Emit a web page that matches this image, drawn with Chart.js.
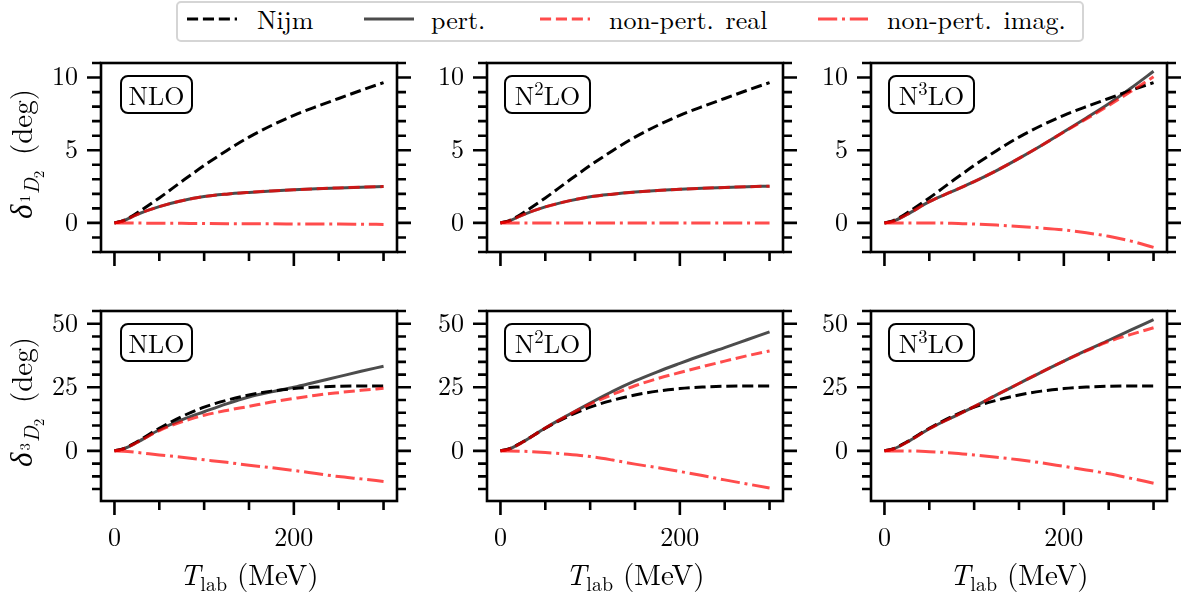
<!DOCTYPE html>
<html>
<head>
<meta charset="utf-8">
<script src="https://cdn.jsdelivr.net/npm/chart.js@4.4.0/dist/chart.umd.min.js"></script>
<style>
  body { margin: 0; background: #fff; }
  #fig { position: relative; width: 1186px; height: 597px; background: #fff; overflow: hidden;
         font-family: "Latin Modern Roman", "Liberation Serif", serif; color: #000; }
  .panel { position: absolute; }
  .tag { position: absolute; box-sizing: border-box; border: 2.5px solid #000; border-radius: 8px;
         font-size: 26px; line-height: 1; display: flex; align-items: center; justify-content: center; }
  .tag sup { font-size: 72%; position: relative; top: -0.42em; vertical-align: baseline; line-height: 0; }
  .ylab { position: absolute; font-size: 29px; line-height: 30px; white-space: nowrap;
          transform: translate(-50%, -50%) rotate(-90deg); }
  .ylab .dl { font-family: "Liberation Serif", serif; font-style: italic; font-size: 31px; }
  .ylab .s1 { font-size: 21px; position: relative; top: 0.35em; margin-left: 2px; margin-right: 6px; }
  .ylab .s1a { font-size: 15px; position: relative; top: -0.6em; margin-right: 1px; }
  .ylab .s1b { font-size: 15px; position: relative; top: 0.3em; }
  .xlab { position: absolute; font-size: 29px; line-height: 29px; white-space: nowrap; transform: translateX(-50%); }
  .xlab .sb { font-size: 20px; position: relative; top: 0.3em; margin-right: 10px; }
  #legend { position: absolute; left: 176px; top: 1px; width: 908px; height: 41px; box-sizing: border-box;
            border: 2px solid #d5d5d5; border-radius: 5px; }
  .lt { position: absolute; top: 6px; font-size: 26px; line-height: 26px; white-space: nowrap; word-spacing: 3px; }
  #lsvg { position: absolute; left: 0; top: 0; }
</style>
</head>
<body>
<div id="fig">
  <svg id="lsvg" width="1186" height="45"></svg>
  <div id="legend"></div>
</div>
<script>
// energies (MeV)
const Tlab = [0, 10, 25, 50, 75, 100, 125, 150, 175, 200, 225, 250, 275, 300];

// 1D2 phase shifts (deg)
const nijm1D2 = [0, 0.16, 0.68, 1.72, 2.85, 3.95, 4.97, 5.9, 6.7, 7.4, 8.0, 8.56, 9.12, 9.65];
const nlo1D2Pert = [0, 0.15, 0.58, 1.12, 1.52, 1.81, 1.98, 2.1, 2.2, 2.28, 2.35, 2.41, 2.46, 2.5];
const nlo1D2Real = [0, 0.15, 0.58, 1.12, 1.52, 1.81, 1.98, 2.1, 2.2, 2.28, 2.35, 2.41, 2.46, 2.5];
const nlo1D2Imag = [0, 0, -0.01, -0.02, -0.03, -0.04, -0.05, -0.06, -0.06, -0.07, -0.08, -0.08, -0.09, -0.1];
const n2lo1D2Pert = [0, 0.14, 0.56, 1.1, 1.5, 1.8, 1.98, 2.12, 2.23, 2.31, 2.38, 2.44, 2.49, 2.53];
const n2lo1D2Real = [0, 0.14, 0.56, 1.1, 1.5, 1.8, 1.98, 2.12, 2.23, 2.31, 2.38, 2.44, 2.49, 2.53];
const n2lo1D2Imag = [0, 0, 0, 0, 0, 0, 0, 0, 0, 0, 0, 0, -0.01, -0.01];
const n3lo1D2Pert = [0, 0.12, 0.58, 1.46, 2.15, 2.84, 3.6, 4.44, 5.33, 6.27, 7.22, 8.2, 9.28, 10.43];
const n3lo1D2Real = [0, 0.12, 0.58, 1.46, 2.15, 2.84, 3.6, 4.44, 5.33, 6.25, 7.15, 8.08, 9.05, 10.05];
const n3lo1D2Imag = [0, 0, 0, 0, -0.02, -0.08, -0.15, -0.25, -0.35, -0.48, -0.68, -0.92, -1.25, -1.68];

// 3D2 phase shifts (deg)
const nijm3D2 = [0, 0.85, 3.6, 8.9, 13.5, 17.2, 19.9, 22.0, 23.5, 24.5, 25.1, 25.4, 25.5, 25.5];
const nlo3D2Pert = [0, 0.8, 3.3, 8.3, 12.2, 15.4, 18.5, 21.2, 23.2, 25.0, 27.1, 29.2, 31.3, 33.3];
const nlo3D2Real = [0, 0.8, 3.3, 8.0, 11.4, 14.0, 15.9, 17.5, 19.2, 20.6, 21.9, 22.9, 23.8, 24.6];
const nlo3D2Imag = [0, -0.1, -0.6, -1.6, -2.5, -3.5, -4.5, -5.6, -6.6, -7.7, -8.9, -10.1, -11.0, -12.0];
const n2lo3D2Pert = [0, 0.8, 3.5, 9.0, 14.0, 18.8, 23.4, 27.5, 31.1, 34.4, 37.6, 40.6, 43.7, 46.8];
const n2lo3D2Real = [0, 0.8, 3.5, 9.0, 13.9, 18.4, 22.2, 25.6, 28.4, 30.8, 33.1, 35.3, 37.4, 39.3];
const n2lo3D2Imag = [0, 0, -0.15, -0.65, -1.3, -2.2, -3.6, -5.2, -6.6, -8.1, -9.7, -11.4, -13.0, -14.6];
const n3lo3D2Pert = [0, 0.8, 3.4, 8.7, 13.1, 17.4, 22.0, 26.5, 31.0, 35.3, 39.5, 43.5, 47.6, 51.6];
const n3lo3D2Real = [0, 0.8, 3.4, 8.7, 13.1, 17.4, 22.0, 26.5, 31.0, 35.3, 39.3, 43.0, 45.8, 48.4];
const n3lo3D2Imag = [0, 0, 0, -0.3, -0.8, -1.6, -2.5, -3.5, -4.7, -6.1, -7.5, -9.0, -10.8, -12.7];

// axes
const xRange = [-15, 315];
const xMajorTicks = [0, 200];
const xMinorTicks = [50, 100, 150, 250, 300];
const yRangeTop = [-2, 11];
const yMajorTop = [0, 5, 10];
const yMinorTop = [-2, -1, 1, 2, 3, 4, 6, 7, 8, 9, 11];
const yRangeBottom = [-19.7, 55];
const yMajorBottom = [0, 25, 50];
const yMinorBottom = [-15, -10, -5, 5, 10, 15, 20, 30, 35, 40, 45, 55];

const seriesNames = ["Nijm", "pert.", "non-pert. real", "non-pert. imag."];
const orderNames = ["NLO", "N<sup>2</sup>LO", "N<sup>3</sup>LO"];

// layout (pixels)
const colLeft = [101, 487, 871];
const rowTop = [63, 311];
const rowHeight = [189, 190];
const plotWidth = 296;
const padLeft = 70, padTop = 8, padRight = 18;
const xAxisHeight = [30, 52];
const majorLen = 14, minorLen = 9;
const font = { family: "'Latin Modern Roman', 'Liberation Serif', serif", size: 26 };

const red = "rgba(255,0,0,0.7)";
const styles = [
  { color: "#000000", dash: [11.1, 4.8], order: 4 },
  { color: "rgba(0,0,0,0.7)", dash: [], order: 3 },
  { color: red, dash: [11.1, 4.8], order: 2 },
  { color: red, dash: [19.2, 4.8, 3, 4.8], order: 1 }
];

const panels = [
  { row: 0, col: 0, series: [nijm1D2, nlo1D2Pert, nlo1D2Real, nlo1D2Imag] },
  { row: 0, col: 1, series: [nijm1D2, n2lo1D2Pert, n2lo1D2Real, n2lo1D2Imag] },
  { row: 0, col: 2, series: [nijm1D2, n3lo1D2Pert, n3lo1D2Real, n3lo1D2Imag] },
  { row: 1, col: 0, series: [nijm3D2, nlo3D2Pert, nlo3D2Real, nlo3D2Imag] },
  { row: 1, col: 1, series: [nijm3D2, n2lo3D2Pert, n2lo3D2Real, n2lo3D2Imag] },
  { row: 1, col: 2, series: [nijm3D2, n3lo3D2Pert, n3lo3D2Real, n3lo3D2Imag] }
];

// frame + major/minor ticks, placed with the chart's own scales
const frameTicks = {
  id: "frameTicks",
  afterDatasetsDraw(chart, args, o) {
    const { ctx, chartArea: a } = chart;
    const x = chart.scales.x, y = chart.scales.y;
    ctx.save();
    ctx.strokeStyle = "#000";
    ctx.lineWidth = 2.6;
    ctx.lineCap = "butt";
    ctx.beginPath();
    const yTick = (v, len) => {
      const py = y.getPixelForValue(v);
      ctx.moveTo(a.left, py); ctx.lineTo(a.left - len, py);
      ctx.moveTo(a.right, py); ctx.lineTo(a.right + len, py);
    };
    const xTick = (v, len) => {
      const px = x.getPixelForValue(v);
      ctx.moveTo(px, a.bottom); ctx.lineTo(px, a.bottom + len);
    };
    o.yMajor.forEach(v => yTick(v, majorLen));
    o.yMinor.forEach(v => yTick(v, minorLen));
    xMajorTicks.forEach(v => xTick(v, majorLen));
    xMinorTicks.forEach(v => xTick(v, minorLen));
    ctx.stroke();
    ctx.strokeRect(a.left, a.top, a.right - a.left, a.bottom - a.top);
    ctx.restore();
  }
};

const fig = document.getElementById("fig");

panels.forEach(p => {
  const w = padLeft + plotWidth + padRight;
  const h = padTop + rowHeight[p.row] + xAxisHeight[p.row];
  const div = document.createElement("div");
  div.className = "panel";
  div.style.left = (colLeft[p.col] - padLeft) + "px";
  div.style.top = (rowTop[p.row] - padTop) + "px";
  const canvas = document.createElement("canvas");
  canvas.width = w; canvas.height = h;
  canvas.style.width = w + "px"; canvas.style.height = h + "px";
  div.appendChild(canvas);
  fig.appendChild(div);

  const yRange = p.row === 0 ? yRangeTop : yRangeBottom;
  const yMajor = p.row === 0 ? yMajorTop : yMajorBottom;
  const yMinor = p.row === 0 ? yMinorTop : yMinorBottom;

  const datasets = p.series.map((vals, i) => ({
    label: seriesNames[i],
    data: Tlab.map((t, k) => ({ x: t, y: vals[k] })),
    borderColor: styles[i].color,
    borderDash: styles[i].dash,
    borderWidth: 3,
    borderCapStyle: "butt",
    pointRadius: 0,
    fill: false,
    cubicInterpolationMode: "monotone",
    order: styles[i].order
  }));

  new Chart(canvas, {
    type: "line",
    data: { datasets },
    options: {
      responsive: false,
      animation: false,
      devicePixelRatio: 1,
      layout: { padding: { top: padTop, right: padRight, left: 0, bottom: 0 } },
      plugins: {
        legend: { display: false },
        tooltip: { enabled: false },
        frameTicks: { yMajor, yMinor }
      },
      scales: {
        x: {
          type: "linear", min: xRange[0], max: xRange[1],
          afterBuildTicks: s => { s.ticks = xMajorTicks.map(v => ({ value: v })); },
          afterFit: s => { s.height = xAxisHeight[p.row]; s.paddingLeft = 0; s.paddingRight = 0; },
          grid: { display: false, drawTicks: false, tickLength: 0 },
          border: { display: false },
          ticks: { display: p.row === 1, font, color: "#000", padding: 21, maxRotation: 0, autoSkip: false }
        },
        y: {
          type: "linear", min: yRange[0], max: yRange[1],
          afterBuildTicks: s => { s.ticks = yMajor.map(v => ({ value: v })); },
          afterFit: s => { s.width = padLeft; s.paddingTop = 0; s.paddingBottom = 0; },
          grid: { display: false, drawTicks: false, tickLength: 0 },
          border: { display: false },
          ticks: { font, color: "#000", padding: 23 }
        }
      }
    },
    plugins: [frameTicks]
  });

  // order label box
  const tag = document.createElement("div");
  tag.className = "tag";
  tag.innerHTML = orderNames[p.col];
  tag.style.left = (colLeft[p.col] + (p.col === 0 ? 19 : 17)) + "px";
  tag.style.top = (rowTop[p.row] + 12) + "px";
  tag.style.width = (p.col === 0 ? 73 : 87) + "px";
  tag.style.height = "39px";
  fig.appendChild(tag);

  if (p.row === 1) {
    const xl = document.createElement("div");
    xl.className = "xlab";
    xl.innerHTML = '<i>T</i><span class="sb">lab</span>(MeV)';
    xl.style.left = (colLeft[p.col] + plotWidth / 2) + "px";
    xl.style.top = "558px";
    fig.appendChild(xl);
  }
});

// y axis titles
[["1", rowTop[0] + rowHeight[0] / 2 - 4], ["3", rowTop[1] + rowHeight[1] / 2 - 4]].forEach(([s, cy]) => {
  const yl = document.createElement("div");
  yl.className = "ylab";
  yl.innerHTML = '<span class="dl">δ</span><span class="s1"><span class="s1a">' + s + '</span><i>D</i><span class="s1b">2</span></span> (deg)';
  yl.style.left = "23px";
  yl.style.top = cy + "px";
  fig.appendChild(yl);
});

// legend
const legendLineX = [187, 364, 540, 818];
const legendTextX = [257, 431, 609, 887];
const svg = document.getElementById("lsvg");
seriesNames.forEach((name, i) => {
  const ln = document.createElementNS("http://www.w3.org/2000/svg", "line");
  ln.setAttribute("x1", legendLineX[i]); ln.setAttribute("x2", legendLineX[i] + 50);
  ln.setAttribute("y1", 19); ln.setAttribute("y2", 19);
  ln.setAttribute("stroke", styles[i].color);
  ln.setAttribute("stroke-width", 3);
  if (styles[i].dash.length) ln.setAttribute("stroke-dasharray", styles[i].dash.join(" "));
  svg.appendChild(ln);
  const t = document.createElement("div");
  t.className = "lt";
  t.textContent = name;
  t.style.left = legendTextX[i] + "px";
  fig.appendChild(t);
});
</script>
</body>
</html>
